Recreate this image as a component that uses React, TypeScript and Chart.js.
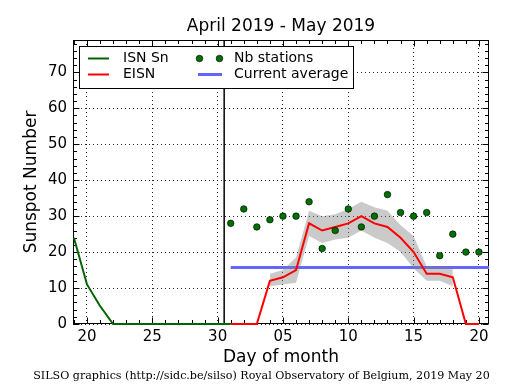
import { useEffect, useRef } from "react";
import { Chart, registerables } from "chart.js";

Chart.register(...registerables);

const SANS = "'DejaVu Sans', sans-serif";
const SERIF = "'DejaVu Serif', serif";

const TITLE = "April 2019 - May 2019";
const X_TITLE = "Day of month";
const Y_TITLE = "Sunspot Number";
const FOOTER = "SILSO graphics (http://sidc.be/silso) Royal Observatory of Belgium, 2019 May 20";

// Axis position: April days keep their number, May days are 30 + day.
const APRIL_DAYS = 30;

// Daily ISN (Sn), April 19 .. May 1 (31 = May 1)
const isnDays = [19, 20, 21, 22, 23, 24, 25, 26, 27, 28, 29, 30, 31];
const isnValues = [24, 11, 5, 0, 0, 0, 0, 0, 0, 0, 0, 0, 0];

// May 2019 days
const mayDays = [1, 2, 3, 4, 5, 6, 7, 8, 9, 10, 11, 12, 13, 14, 15, 16, 17, 18, 19, 20];
const eisnValues = [0, 0, 0, 12, 13, 15, 28, 26, 27, 28, 30, 28, 27, 24, 20, 14, 14, 13, 0, 0];
const stationValues = [28, 32, 27, 29, 30, 30, 34, 21, 26, 32, 27, 30, 36, 31, 30, 31, 19, 25, 20, 20];

// Uncertainty band around EISN (May 4 .. May 18)
const bandDays = [4, 5, 6, 7, 8, 9, 10, 11, 12, 13, 14, 15, 16, 17, 18];
const bandLower = [10.5, 11, 11.5, 24.5, 22.5, 23.5, 24, 26, 24, 22.5, 20, 15.5, 12, 12, 10.5];
const bandUpper = [14, 15, 18.5, 31.5, 30, 30.5, 32, 34, 32.5, 31.5, 27.5, 24.5, 16, 16, 15.5];

// Current average
const averageValue = 15.7;
const averageDays = [1, 22]; // May 1 to past the right edge

// Month boundary marker (between April 30 and May 1)
const boundaryDay = 30.5;

// Axes
const xMin = 18.93;
const xMax = 50.77;
const yMin = 0;
const yMax = 79;
const xTickValues = [20, 25, 30, 35, 40, 45, 50];
const xTickLabels = ["20", "25", "30", "05", "10", "15", "20"];
const yTickValues = [0, 10, 20, 30, 40, 50, 60, 70];
const yTickLabels = ["0", "10", "20", "30", "40", "50", "60", "70"];
const xMinorStep = 1;
const yMinorStep = 2;

const legendItems = ["ISN Sn", "EISN", "Nb stations", "Current average"];

const ISN_COLOR = "#006400";
const EISN_COLOR = "#ff0000";
const DOT_COLOR = "#007000";
const AVG_COLOR = "#6464ff";
const BAND_COLOR = "rgba(128,128,128,0.42)";

const may = (d: number) => APRIL_DAYS + d;

const decorations = {
  id: "decorations",
  beforeDatasetsDraw(chart: any) {
    const { ctx, chartArea: a, scales } = chart;
    const xs = scales.x;
    const ys = scales.y;
    const L = Math.round(a.left) + 0.5;
    const R = Math.round(a.right) - 0.5;
    const T = Math.round(a.top) + 0.5;
    const B = Math.round(a.bottom) - 0.5;
    ctx.save();
    ctx.strokeStyle = "#000";
    ctx.lineWidth = 1;
    ctx.setLineDash([]);
    ctx.beginPath();
    for (let v = Math.ceil(xMin); v <= xMax; v += xMinorStep) {
      const major = xTickValues.includes(v);
      const len = major ? 6 : 3.5;
      const px = Math.round(xs.getPixelForValue(v)) + 0.5;
      ctx.moveTo(px, B);
      ctx.lineTo(px, B - len);
      ctx.moveTo(px, T);
      ctx.lineTo(px, T + len);
    }
    for (let v = Math.ceil(yMin); v <= yMax; v += yMinorStep) {
      const major = yTickValues.includes(v);
      const len = major ? 6 : 3.5;
      const py = Math.round(ys.getPixelForValue(v)) + 0.5;
      ctx.moveTo(L, py);
      ctx.lineTo(L + len, py);
      ctx.moveTo(R, py);
      ctx.lineTo(R - len, py);
    }
    ctx.stroke();
    ctx.strokeRect(L, T, R - L, B - T);
    ctx.restore();
  },
  afterDraw(chart: any) {
    const { ctx, chartArea: a } = chart;
    ctx.save();
    // legend
    const lx = 79.5, ly = 46.5, lw = 274, lh = 42;
    ctx.fillStyle = "#fff";
    ctx.fillRect(lx, ly, lw, lh);
    ctx.strokeStyle = "#000";
    ctx.lineWidth = 1;
    ctx.strokeRect(lx, ly, lw, lh);
    const row1 = 58.5, row2 = 74.5;
    ctx.lineWidth = 2;
    ctx.strokeStyle = ISN_COLOR;
    ctx.beginPath(); ctx.moveTo(88, row1); ctx.lineTo(109, row1); ctx.stroke();
    ctx.strokeStyle = EISN_COLOR;
    ctx.beginPath(); ctx.moveTo(88, row2); ctx.lineTo(109, row2); ctx.stroke();
    ctx.lineWidth = 3;
    ctx.strokeStyle = AVG_COLOR;
    ctx.beginPath(); ctx.moveTo(198, row2); ctx.lineTo(222, row2); ctx.stroke();
    ctx.lineWidth = 0.6;
    ctx.strokeStyle = "#000";
    ctx.fillStyle = DOT_COLOR;
    for (const cx of [199.5, 219.5]) {
      ctx.beginPath(); ctx.arc(cx, row1, 3.3, 0, Math.PI * 2); ctx.fill(); ctx.stroke();
    }
    ctx.fillStyle = "#000";
    ctx.font = `14px ${SANS}`;
    ctx.textBaseline = "middle";
    ctx.textAlign = "left";
    ctx.fillText(legendItems[0], 123, row1);
    ctx.fillText(legendItems[1], 123, row2);
    ctx.fillText(legendItems[2], 234, row1);
    ctx.fillText(legendItems[3], 234, row2);

    // title
    ctx.font = `17px ${SANS}`;
    ctx.textAlign = "center";
    ctx.fillText(TITLE, (a.left + a.right) / 2, 27);
    // footer
    ctx.font = `11.1px ${SERIF}`;
    ctx.fillText(FOOTER, 261.5, 376);
    ctx.restore();
  },
};

export default function App() {
  const ref = useRef<HTMLCanvasElement>(null);
  useEffect(() => {
    if (!ref.current) return;
    const chart = new Chart(ref.current, {
      type: "line",
      data: {
        datasets: [
          {
            label: legendItems[2],
            data: mayDays.map((d, i) => ({ x: may(d), y: stationValues[i] })),
            showLine: false,
            pointRadius: 3.3,
            pointBackgroundColor: DOT_COLOR,
            pointBorderColor: "#000",
            pointBorderWidth: 0.6,
            order: 0,
          },
          {
            label: legendItems[1],
            data: mayDays.map((d, i) => ({ x: may(d), y: eisnValues[i] })),
            borderColor: EISN_COLOR,
            borderWidth: 2,
            pointRadius: 0,
            tension: 0,
            fill: false,
            clip: 4,
            order: 1,
          },
          {
            label: legendItems[0],
            data: isnDays.map((d, i) => ({ x: d, y: isnValues[i] })),
            borderColor: ISN_COLOR,
            borderWidth: 2,
            pointRadius: 0,
            tension: 0,
            fill: false,
            clip: 4,
            order: 2,
          },
          {
            label: "band lower",
            data: bandDays.map((d, i) => ({ x: may(d), y: bandLower[i] })),
            borderWidth: 0,
            borderColor: "rgba(0,0,0,0)",
            pointRadius: 0,
            fill: false,
            order: 3,
          },
          {
            label: "band upper",
            data: bandDays.map((d, i) => ({ x: may(d), y: bandUpper[i] })),
            borderWidth: 0,
            borderColor: "rgba(0,0,0,0)",
            backgroundColor: BAND_COLOR,
            pointRadius: 0,
            fill: "-1",
            order: 3,
          },
          {
            label: legendItems[3],
            data: averageDays.map((d) => ({ x: may(d), y: averageValue })),
            borderColor: AVG_COLOR,
            borderWidth: 3,
            pointRadius: 0,
            fill: false,
            clip: 0,
            order: 5,
          },
          {
            label: "month boundary",
            data: [
              { x: boundaryDay, y: yMin },
              { x: boundaryDay, y: yMax },
            ],
            borderColor: "#000",
            borderWidth: 1.5,
            pointRadius: 0,
            fill: false,
            clip: 0,
            order: 6,
          },
        ],
      },
      options: {
        animation: false,
        responsive: false,
        devicePixelRatio: 1,
        events: [],
        layout: { padding: { top: 40, right: 26, bottom: 0, left: 0 } },
        plugins: {
          legend: { display: false },
          title: { display: false },
          tooltip: { enabled: false },
        },
        scales: {
          x: {
            type: "linear",
            min: xMin,
            max: xMax,
            afterFit: (s: any) => {
              s.height = 66;
            },
            afterBuildTicks: (s: any) => {
              s.ticks = xTickValues.map((v) => ({ value: v }));
            },
            ticks: {
              autoSkip: false,
              maxRotation: 0,
              padding: 4,
              color: "#000",
              font: { family: SANS, size: 15 },
              callback: (_v: any, i: number) => xTickLabels[i],
            },
            grid: { color: "rgba(0,0,0,0.85)", lineWidth: 1, drawTicks: false },
            border: { display: false, dash: [1, 3] },
            title: {
              display: true,
              text: X_TITLE,
              color: "#000",
              font: { family: SANS, size: 17 },
              padding: { top: 0, bottom: 22 },
            },
          },
          y: {
            type: "linear",
            min: yMin,
            max: yMax,
            afterFit: (s: any) => {
              s.width = 73;
            },
            afterBuildTicks: (s: any) => {
              s.ticks = yTickValues.map((v) => ({ value: v }));
            },
            ticks: {
              autoSkip: false,
              padding: 6,
              color: "#000",
              font: { family: SANS, size: 15 },
              callback: (_v: any, i: number) => yTickLabels[i],
            },
            grid: { color: "rgba(0,0,0,0.85)", lineWidth: 1, drawTicks: false },
            border: { display: false, dash: [1, 3] },
            title: {
              display: true,
              text: Y_TITLE,
              color: "#000",
              font: { family: SANS, size: 17 },
              padding: { top: 21, bottom: 0 },
            },
          },
        },
      },
      plugins: [decorations],
    });
    return () => chart.destroy();
  }, []);
  return (
    <div style={{ position: "fixed", left: 0, top: 0, width: 515, height: 390, background: "#fff" }}>
      <canvas ref={ref} width={515} height={390} style={{ display: "block" }} />
    </div>
  );
}
